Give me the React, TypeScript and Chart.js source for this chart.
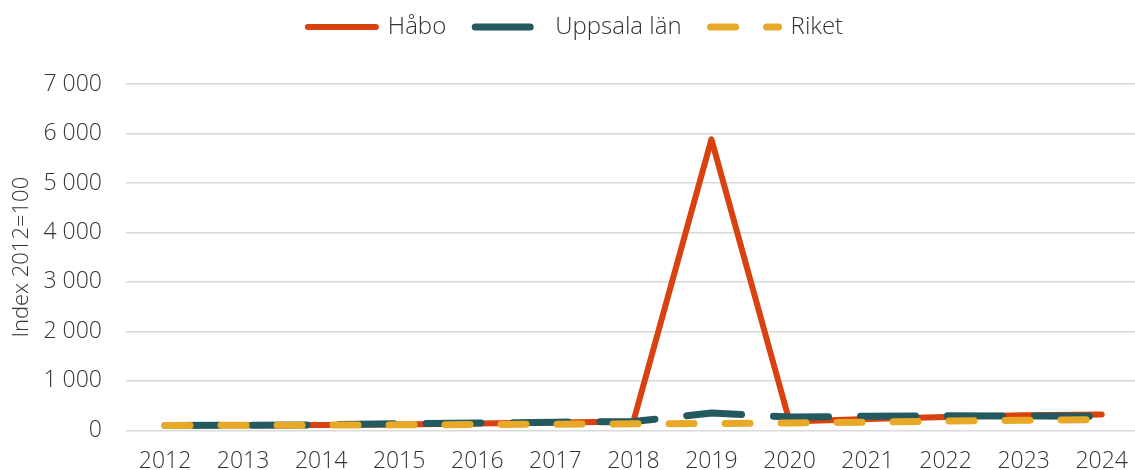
import React, { useEffect, useRef } from "react";
import { Chart, registerables } from "chart.js";

Chart.register(...registerables);

const years = ["2012", "2013", "2014", "2015", "2016", "2017", "2018", "2019", "2020", "2021", "2022", "2023", "2024"];
const habo = [100, 102, 108, 120, 140, 160, 180, 5880, 180, 230, 270, 305, 320];
const uppsala = [100, 104, 112, 135, 150, 165, 180, 350, 270, 285, 295, 290, 285];
const riket = [100, 103, 106, 112, 118, 125, 132, 140, 150, 165, 190, 205, 220];

const yMin = 0;
const yMax = 7000;
const yStep = 1000;
const yTitle = "Index 2012=100";

const FONT = "'Open Sans', 'DejaVu Sans', sans-serif";
const TEXT = "#333333";

const fmt = (v: number) => String(v).replace(/\B(?=(\d{3})+(?!\d))/g, " ");

const legendSpacer = {
  id: "legendSpacer",
  beforeInit(chart: any) {
    const legend = chart.legend;
    if (!legend) return;
    const orig = legend.fit;
    legend.fit = function () {
      orig.bind(legend)();
      this.height += 35;
    };
  },
};

export default function App() {
  const ref = useRef<HTMLCanvasElement | null>(null);
  useEffect(() => {
    if (!ref.current) return;
    const chart = new Chart(ref.current, {
      type: "line",
      data: {
        labels: years,
        datasets: [
          {
            label: "Riket",
            data: riket,
            borderColor: "#E8A928",
            backgroundColor: "#E8A928",
            borderWidth: 7,
            borderDash: [25, 31],
            borderCapStyle: "round",
            borderJoinStyle: "round",
            pointRadius: 0,
            tension: 0,
          },
          {
            label: "Uppsala län",
            data: uppsala,
            borderColor: "#245A5F",
            backgroundColor: "#245A5F",
            borderWidth: 7,
            borderDash: [55, 32],
            borderCapStyle: "round",
            borderJoinStyle: "round",
            pointRadius: 0,
            tension: 0,
          },
          {
            label: "Håbo",
            data: habo,
            borderColor: "#D9410F",
            backgroundColor: "#D9410F",
            borderWidth: 6,
            borderCapStyle: "round",
            borderJoinStyle: "round",
            pointRadius: 0,
            tension: 0,
          },
        ],
      },
      options: {
        animation: false,
        responsive: false,
        devicePixelRatio: 1,
        layout: { padding: { top: -14, left: 6, right: 0, bottom: 0 } },
        plugins: {
          tooltip: { enabled: false },
          legend: {
            position: "top",
            reverse: true,
            labels: {
              usePointStyle: true,
              pointStyle: "line",
              pointStyleWidth: 68,
              padding: 29,
              color: TEXT,
              font: { family: FONT, size: 24, weight: "300" },
              generateLabels: (c: any) => {
                const items = (Chart.defaults as any).plugins.legend.labels.generateLabels(c);
                items.forEach((it: any) => {
                  const ds: any = c.data.datasets[it.datasetIndex];
                  it.lineDash = ds.borderDash || [];
                  it.lineWidth = ds.borderWidth;
                  it.lineCap = "round";
                  it.strokeStyle = ds.borderColor;
                  it.fillStyle = ds.borderColor;
                  it.pointStyle = "line";
                  it.rotation = 180;
                });
                return items;
              },
            },
          },
        },
        scales: {
          x: {
            offset: true,
            grid: { display: false, drawTicks: false },
            border: { display: false },
            ticks: {
              color: TEXT,
              padding: 17,
              maxRotation: 0,
              autoSkip: false,
              font: { family: FONT, size: 23, weight: "300" },
            },
          },
          y: {
            min: yMin,
            max: yMax,
            afterFit: (s: any) => {
              s.width = 120;
            },
            grid: { color: "#d9d9d9", lineWidth: 1.5, drawTicks: false },
            border: { display: false },
            title: {
              display: true,
              text: yTitle,
              color: TEXT,
              font: { family: FONT, size: 22, weight: "300" },
              padding: { top: 3, bottom: 3 },
            },
            ticks: {
              stepSize: yStep,
              padding: 24,
              color: TEXT,
              font: { family: FONT, size: 23, weight: "300" },
              callback: (v: any) => fmt(Number(v)),
            },
          },
        },
      },
      plugins: [legendSpacer],
    });
    return () => chart.destroy();
  }, []);
  return (
    <div style={{ position: "fixed", left: 0, top: 0, width: 1135, height: 470, overflow: "hidden", background: "#fff" }}>
      <canvas ref={ref} width={1145} height={492} style={{ width: 1145, height: 492, display: "block" }} />
    </div>
  );
}
